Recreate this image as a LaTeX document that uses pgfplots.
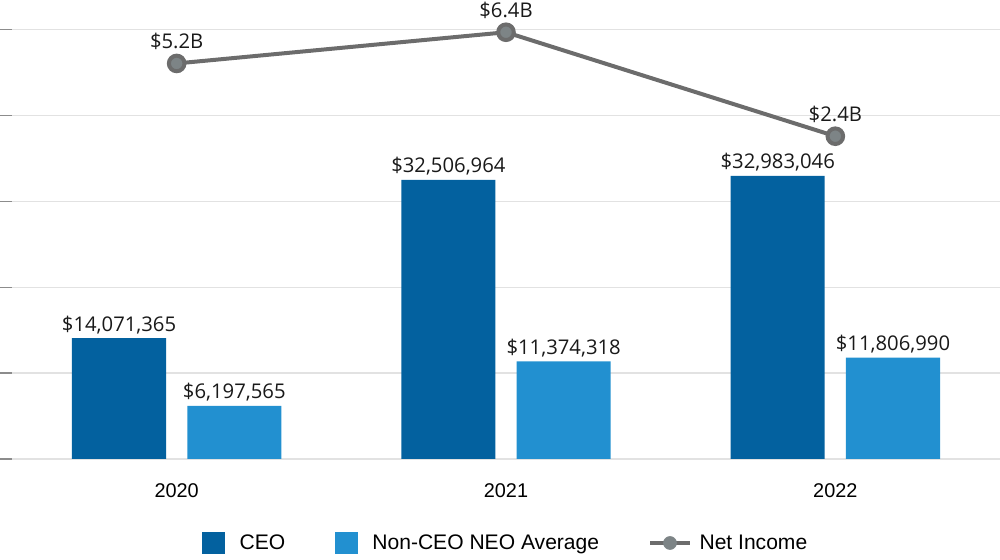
\documentclass[border=0pt]{standalone}
\usepackage{pgfplots}
\pgfplotsset{compat=1.18}
\usepackage{fontspec}
\setmainfont{Open Sans}
\newfontfamily\arial{Liberation Sans}
\definecolor{ceo}{HTML}{03619F}
\definecolor{neo}{HTML}{2290D0}
\definecolor{linegray}{HTML}{6C6C6C}
\definecolor{markgray}{HTML}{7D8486}
\definecolor{gridgray}{HTML}{E2E2E2}
\definecolor{tickgray}{HTML}{8C8C8C}
\begin{document}
\begin{tikzpicture}
\useasboundingbox (0pt,0pt) rectangle (750pt,420pt);
\begin{axis}[
    at={(9pt,75.75pt)}, anchor=south west,
    scale only axis, width=741pt, height=322pt,
    xmin=-0.5, xmax=2.5, ymin=0, ymax=50,
    axis line style={draw=none},
    ytick={0,10,...,50}, yticklabels={},
    ytick pos=left, xtick pos=bottom,
    ymajorgrids, grid style={color=gridgray, line width=1.1pt},
    y tick style={color=tickgray, line width=1.1pt},
    major tick length=9pt, tick align=outside,
    xtick={0,1,2}, xticklabels={2020,2021,2022},
    x tick style={draw=none},
    xticklabel style={font=\arial\fontsize{14.9}{18}\selectfont, yshift=-6pt},
    ybar, bar width=0.2857,
    nodes near coords, point meta=explicit symbolic,
    every node near coord/.append style={font=\fontsize{15.2}{18}\selectfont, text=black!90, inner sep=3pt},
    legend style={at={(0.5,0)}, anchor=center, yshift=-63pt, draw=none, fill=none,
        font=\arial\fontsize{15.8}{18}\selectfont,
        /tikz/every odd column/.append style={column sep=9pt},
        /tikz/every even column/.append style={column sep=35pt}},
    legend columns=3, legend cell align=left,
]
\addplot[fill=ceo, draw=none, bar shift=-0.175,
    legend image code/.code={\fill[ceo] (0pt,-8.6pt) rectangle (17.25pt,8.6pt);}]
    coordinates {(0,14.071365) [\$14,071,365] (1,32.506964) [\$32,506,964] (2,32.983046) [\$32,983,046]};
\addlegendentry{CEO}
\addplot[fill=neo, draw=none, bar shift=0.175,
    legend image code/.code={\fill[neo] (0pt,-8.6pt) rectangle (17.25pt,8.6pt);}]
    coordinates {(0,6.197565) [\$6,197,565] (1,11.374318) [\$11,374,318] (2,11.806990) [\$11,806,990]};
\addlegendentry{Non-CEO NEO Average}
\addlegendimage{legend image code/.code={\draw[linegray, line width=2.3pt] (0pt,0pt) -- (30pt,0pt); \fill[markgray] (15pt,0pt) circle (4.9pt);}}
\addlegendentry{\hspace{-5pt}Net Income}
\end{axis}
\begin{axis}[
    at={(9pt,75.75pt)}, anchor=south west,
    scale only axis, width=741pt, height=322pt,
    xmin=-0.5, xmax=2.5, ymin=-10.02, ymax=6.5,
    hide axis, clip=false,
    nodes near coords, point meta=explicit symbolic,
    every node near coord/.append style={font=\fontsize{15.2}{18}\selectfont, text=black!90, inner sep=2pt, anchor=south, yshift=7pt},
]
\addplot[linegray, line width=3pt, mark=*, mark size=5.85pt,
    mark options={fill=markgray, draw=none}]
    coordinates {(0,5.2) [\$5.2B] (1,6.4) [\$6.4B] (2,2.4) [\$2.4B]};
\end{axis}
\end{tikzpicture}
\end{document}
